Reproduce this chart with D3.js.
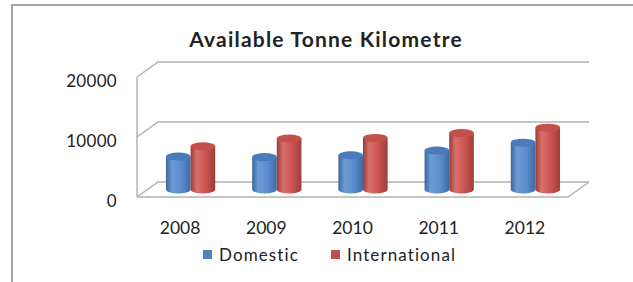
<!DOCTYPE html>
<html>
<head>
<meta charset="utf-8">
<script src="https://cdn.jsdelivr.net/npm/d3@7"></script>
<style>
  body { margin: 0; background: #fff; }
  svg text { font-family: Lato, "Open Sans", sans-serif; fill: #222; }
</style>
</head>
<body>
<svg id="chart" width="633" height="282"></svg>
<script>
const years = ['2008', '2009', '2010', '2011', '2012'];
const seriesNames = ['Domestic', 'International'];
const domestic = [5500, 5400, 5700, 6500, 7800];
const international = [7200, 8500, 8600, 9400, 10300];
const yTicks = [0, 10000, 20000];
const colours = ['#4f81bd', '#c0504d'];

const svg = d3.select('#chart');
const plot = {left: 137, right: 568, top: 77, bottom: 197};
const depth = {dx: 21, dy: -15};

// outer chart frame (only left and top edges are in view)
svg.append('path')
    .attr('d', 'M12,282 L12,5 L640,5')
    .attr('fill', 'none')
    .attr('stroke', '#a6a6a6')
    .attr('stroke-width', 2);

const x = d3.scaleBand()
    .domain(years)
    .range([plot.left, plot.right]);
const y = d3.scaleLinear()
    .domain([0, 20000])
    .range([plot.bottom, plot.top]);

// gap width 150% like the spreadsheet default
const barW = x.bandwidth() / 3.5;
const x1 = d3.scaleBand()
    .domain(seriesNames)
    .range([0, 2 * barW]);

// gradients for cylinders
const defs = svg.append('defs');
const shades = [
  ['#3b6699', '#6c9bd6', '#5a8ccc', '#3d6aa3'],
  ['#963c3a', '#d9706c', '#c9524f', '#9c3e3b']
];
shades.forEach((s, i) => {
  const g = defs.append('linearGradient').attr('id', 'cyl' + i);
  g.append('stop').attr('offset', '0%').attr('stop-color', s[0]);
  g.append('stop').attr('offset', '25%').attr('stop-color', s[1]);
  g.append('stop').attr('offset', '65%').attr('stop-color', s[2]);
  g.append('stop').attr('offset', '100%').attr('stop-color', s[3]);
});

const grid = svg.append('g')
    .attr('fill', 'none')
    .attr('stroke', '#b3b3b3')
    .attr('stroke-width', 1.5);

// left side wall
grid.append('line')
    .attr('x1', plot.left).attr('x2', plot.left)
    .attr('y1', y(20000)).attr('y2', y(0));

// gridlines: diagonal on side wall, horizontal on back wall
yTicks.forEach(t => {
  grid.append('path')
      .attr('d', 'M' + plot.left + ',' + y(t) +
                 ' L' + (plot.left + depth.dx) + ',' + (y(t) + depth.dy) +
                 ' L' + (plot.right + depth.dx) + ',' + (y(t) + depth.dy));
});

// floor front edge
grid.append('path')
    .attr('d', 'M' + plot.left + ',' + y(0) +
               ' L' + plot.right + ',' + y(0) +
               ' L' + (plot.right + depth.dx) + ',' + (y(0) + depth.dy));

// y axis labels
svg.append('g').selectAll('text')
    .data(yTicks)
    .enter().append('text')
      .attr('x', 117)
      .attr('y', d => y(d) + 3)
      .attr('text-anchor', 'end')
      .attr('dominant-baseline', 'central')
      .attr('font-size', 17)
      .attr('letter-spacing', 0.3)
      .text(d => d);

// x axis labels
svg.append('g').selectAll('text')
    .data(years)
    .enter().append('text')
      .attr('x', d => x(d) + x.bandwidth() / 2)
      .attr('y', 227)
      .attr('text-anchor', 'middle')
      .attr('dominant-baseline', 'central')
      .attr('font-size', 17.5)
      .text(d => d);

// cylinders
const rx = barW / 2;
const ry = 4;
const rows = [];
years.forEach((yr, i) => {
  rows.push({year: yr, series: seriesNames[0], value: domestic[i], k: 0});
  rows.push({year: yr, series: seriesNames[1], value: international[i], k: 1});
});

const bars = svg.append('g').selectAll('g')
    .data(rows)
    .enter().append('g');

const barLeft = d => x(d.year) + (x.bandwidth() - 2 * barW) / 2 + depth.dx / 2 + x1(d.series);
const yTop = d => y(d.value) + depth.dy / 2;
const yBase = y(0) + depth.dy / 2;

bars.append('path')
    .attr('fill', d => 'url(#cyl' + d.k + ')')
    .attr('d', d => {
      const l = barLeft(d), r = l + barW;
      return 'M' + l + ',' + yTop(d) + ' L' + l + ',' + yBase +
             ' A' + rx + ',' + ry + ' 0 0 0 ' + r + ',' + yBase +
             ' L' + r + ',' + yTop(d) + ' Z';
    });

bars.append('ellipse')
    .attr('cx', d => barLeft(d) + rx)
    .attr('cy', yTop)
    .attr('rx', rx)
    .attr('ry', ry)
    .attr('fill', d => d.k === 0 ? '#4a7bbd' : '#c4504c');

// title
svg.append('text')
    .attr('x', 326)
    .attr('y', 38)
    .attr('text-anchor', 'middle')
    .attr('dominant-baseline', 'central')
    .attr('font-size', 21)
    .attr('font-weight', 'bold')
    .attr('letter-spacing', 1.2)
    .text('Available Tonne Kilometre');

// legend
const legend = svg.append('g').selectAll('g')
    .data(seriesNames)
    .enter().append('g')
      .attr('transform', (d, i) => 'translate(' + [203, 331][i] + ',250)');
legend.append('rect')
    .attr('width', 9).attr('height', 9)
    .attr('fill', (d, i) => colours[i]);
legend.append('text')
    .attr('x', 16)
    .attr('y', 4.5)
    .attr('dominant-baseline', 'central')
    .attr('font-size', 17)
    .attr('letter-spacing', 1.1)
    .text(d => d);
</script>
</body>
</html>
